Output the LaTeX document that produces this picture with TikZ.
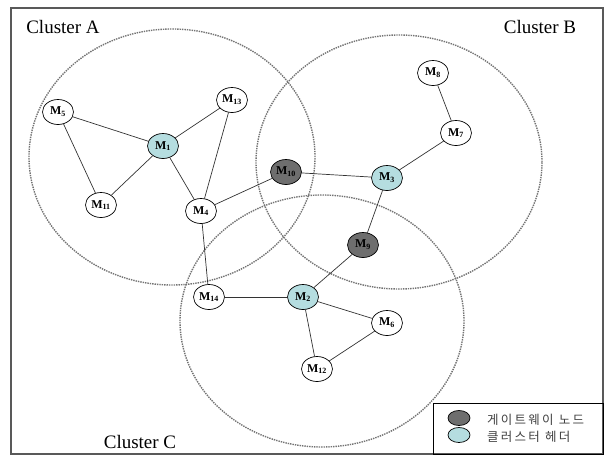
\documentclass[tikz,border=0pt]{standalone}
\usepackage{fontspec}
\setmainfont{Liberation Serif}
\newfontfamily\kofont{Noto Sans CJK KR}[LetterSpace=18]
\usetikzlibrary{shapes.geometric}
\definecolor{gatefill}{HTML}{6E6E6E}
\definecolor{headfill}{HTML}{B5DDE0}
\tikzset{
    member/.style={ellipse, draw, fill=white, minimum width=31pt, minimum height=25pt, inner sep=0pt, font=\fontsize{12}{12}\selectfont\bfseries, line width=0.7pt},
    gateway/.style={member, fill=gatefill},
    head/.style={member, fill=headfill},
    link/.style={draw, black!80, line width=0.7pt},
    cluster/.style={draw, black!55, densely dotted, line width=1.4pt},
    title/.style={font=\fontsize{19}{19}\selectfont},
    keytext/.style={font=\kofont\fontsize{12.5}{12.5}\selectfont, anchor=west, inner sep=0pt, black!75},
    keymark/.style={ellipse, draw, minimum width=22pt, minimum height=15pt, inner sep=0pt, line width=0.7pt}
}
\begin{document}
\begin{tikzpicture}[x=1pt, y=-1pt]
    \useasboundingbox (0,0) rectangle (604,455);
    \draw [black!65, line width=1.5pt] (11,8) rectangle (603,454);

    \draw [cluster] (172,157) ellipse [x radius=143pt, y radius=128pt];
    \draw [cluster] (399,162) ellipse [x radius=143pt, y radius=127pt];
    \draw [cluster] (322,321) ellipse [x radius=142pt, y radius=126pt];

    \node [title] (clusterA) at (63,27) {Cluster A};
    \node [title] (clusterB) at (540,27) {Cluster B};
    \node [title] (clusterC) at (140,442) {Cluster C};

    \node [head] (m1) at (163,146) {M\textsubscript{1}};
    \node [head] (m2) at (303,297) {M\textsubscript{2}};
    \node [head] (m3) at (387,178) {M\textsubscript{3}};
    \node [member] (m4) at (201,211) {M\textsubscript{4}};
    \node [member] (m5) at (58,112) {M\textsubscript{5}};
    \node [member] (m6) at (387,323) {M\textsubscript{6}};
    \node [member] (m7) at (456,133) {M\textsubscript{7}};
    \node [member] (m8) at (433,73) {M\textsubscript{8}};
    \node [gateway] (m9) at (363,245) {M\textsubscript{9}};
    \node [gateway] (m10) at (286,172) {M\textsubscript{10}};
    \node [member] (m11) at (101,205) {M\textsubscript{11}};
    \node [member] (m12) at (317,369) {M\textsubscript{12}};
    \node [member] (m13) at (232,100) {M\textsubscript{13}};
    \node [member] (m14) at (209,297) {M\textsubscript{14}};

    \path [link] (m5) -- (m1);
    \path [link] (m5) -- (m11);
    \path [link] (m11) -- (m1);
    \path [link] (m1) -- (m13);
    \path [link] (m1) -- (m4);
    \path [link] (m13) -- (m4);
    \path [link] (m4) -- (m10);
    \path [link] (m10) -- (m3);
    \path [link] (m3) -- (m7);
    \path [link] (m7) -- (m8);
    \path [link] (m3) -- (m9);
    \path [link] (m9) -- (m2);
    \path [link] (m4) -- (m14);
    \path [link] (m14) -- (m2);
    \path [link] (m2) -- (m6);
    \path [link] (m2) -- (m12);
    \path [link] (m12) -- (m6);

    \draw [black, line width=0.8pt] (433,403) rectangle (603,454);
    \node [keymark, fill=gatefill] (gatekey) at (459,418) {};
    \node [keymark, fill=headfill] (headkey) at (459,435) {};
    \node [keytext] (gatelabel) at (487,420) {게이트웨이 노드};
    \node [keytext] (headlabel) at (487,437) {클러스터 헤더};
\end{tikzpicture}
\end{document}
